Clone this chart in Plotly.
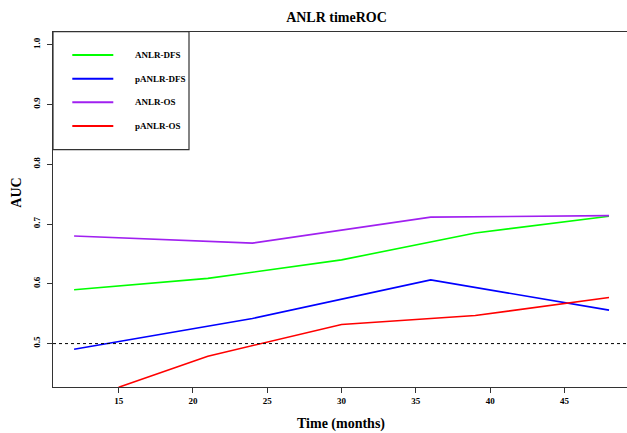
import plotly.graph_objects as go

# ---------------- data ----------------
series_names = ["ANLR-DFS", "pANLR-DFS", "ANLR-OS", "pANLR-OS"]

anlr_dfs_t = [12, 21, 30, 36, 39, 48]
anlr_dfs_auc = [0.590, 0.609, 0.640, 0.670, 0.685, 0.713]

panlr_dfs_t = [12, 24, 36, 48]
panlr_dfs_auc = [0.4905, 0.542, 0.6065, 0.556]

anlr_os_t = [12, 24, 36, 48]
anlr_os_auc = [0.680, 0.668, 0.7115, 0.714]

panlr_os_t = [15, 21, 30, 39, 48]
panlr_os_auc = [0.427, 0.479, 0.532, 0.547, 0.577]

x_ticks = [15, 20, 25, 30, 35, 40, 45]
y_ticks = [0.5, 0.6, 0.7, 0.8, 0.9, 1.0]
y_tick_labels = ["0.5", "0.6", "0.7", "0.8", "0.9", "1.0"]
reference_auc = 0.5

# ---------------- style ----------------
W, H = 627, 433
ML, MR, MT, MB = 53, 0, 32, 46
PW, PH = W - ML - MR, H - MT - MB
colors = ["#00FF00", "#0000FF", "#A020F0", "#FF0000"]
FONT = "Liberation Serif, Times New Roman, serif"
AX = "#333333"


def px(x):
    return (x - ML) / PW


def py(y):
    return (H - MB - y) / PH


times = [anlr_dfs_t, panlr_dfs_t, anlr_os_t, panlr_os_t]
aucs = [anlr_dfs_auc, panlr_dfs_auc, anlr_os_auc, panlr_os_auc]

fig = go.Figure()
for name, t, a, c in zip(series_names, times, aucs, colors):
    fig.add_trace(go.Scatter(x=t, y=a, mode="lines", name=name,
                             line=dict(color=c, width=1.6), showlegend=False))

# reference line
fig.add_shape(type="line", xref="paper", x0=0, x1=1, yref="y",
              y0=reference_auc, y1=reference_auc,
              line=dict(color="black", width=1, dash="dot"))

# manual legend (R style box)
fig.add_shape(type="rect", xref="paper", yref="paper",
              x0=px(53), x1=px(189), y0=py(149.7), y1=py(31.7),
              line=dict(color=AX, width=1.2), fillcolor="white", layer="above")
row_y = [55, 78.7, 102.3, 126]
for name, c, ry in zip(series_names, colors, row_y):
    fig.add_shape(type="line", xref="paper", yref="paper",
                  x0=px(72.3), x1=px(113.3), y0=py(ry), y1=py(ry),
                  line=dict(color=c, width=2), layer="above")
    fig.add_annotation(text=name, xref="paper", yref="paper",
                       x=px(133.3), y=py(ry), xanchor="left", yanchor="middle",
                       showarrow=False,
                       font=dict(family=FONT, size=9, color="black", weight="bold"))

# axis titles
fig.add_annotation(text="Time (months)", xref="paper", yref="paper",
                   x=px(341), y=py(424), xanchor="center", yanchor="middle",
                   showarrow=False,
                   font=dict(family=FONT, size=14, color="black", weight="bold"))
fig.add_annotation(text="AUC", xref="paper", yref="paper",
                   x=px(16.7), y=py(193), xanchor="center", yanchor="middle",
                   textangle=-90, showarrow=False,
                   font=dict(family=FONT, size=14, color="black", weight="bold"))

fig.update_layout(
    width=W, height=H,
    margin=dict(l=ML, r=MR, t=MT, b=MB),
    paper_bgcolor="white", plot_bgcolor="white",
    title=dict(text="ANLR timeROC", xref="container", yref="container",
               x=336.5 / W, y=1 - 17 / H, xanchor="center", yanchor="middle",
               font=dict(family=FONT, size=14, color="black", weight="bold")),
    showlegend=False,
    xaxis=dict(range=[10.58, 49.21], tickvals=x_ticks, ticks="outside",
               ticklen=5, tickcolor=AX, showgrid=False, zeroline=False,
               showline=True, linecolor=AX, linewidth=1, mirror=True,
               tickfont=dict(family=FONT, size=9, color="black", weight="bold")),
    yaxis=dict(range=[0.4274, 1.0211], tickvals=y_ticks, ticktext=y_tick_labels,
               ticks="outside", ticklen=5, tickcolor=AX, tickangle=-90,
               ticklabelstandoff=3,
               showgrid=False, zeroline=False,
               showline=True, linecolor=AX, linewidth=1,
               tickfont=dict(family=FONT, size=9, color="black", weight="bold")),
)

fig.write_html("out.html")
